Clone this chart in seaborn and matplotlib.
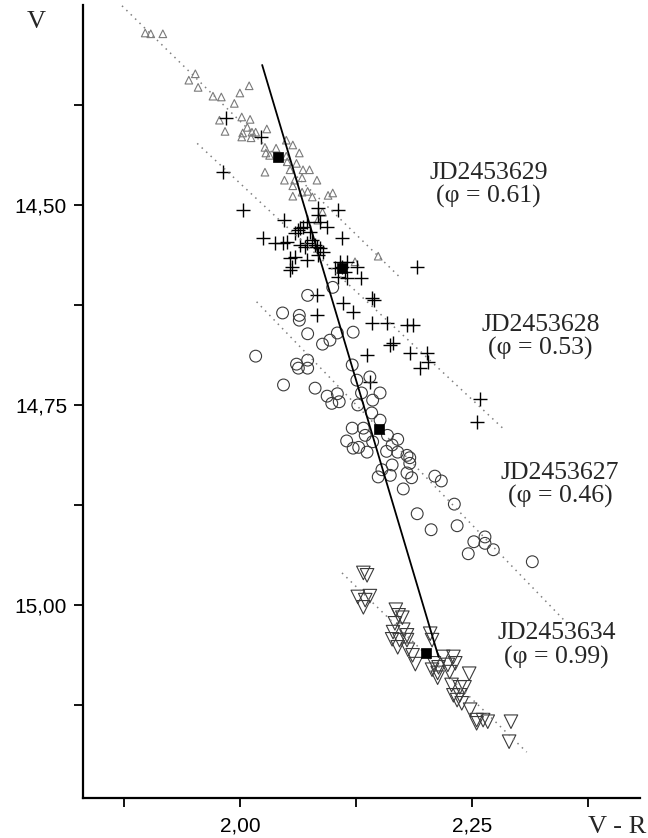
import matplotlib
matplotlib.use("Agg")
import matplotlib.pyplot as plt
import seaborn as sns

# JD2453629 (phi = 0.61) - open triangles
vr_629 = [1.898, 1.904, 1.917, 1.952, 1.945, 1.955, 1.980, 2.000, 2.010, 1.994,
          1.978, 1.984, 2.002, 2.011, 2.008, 2.003, 2.013, 2.002, 2.012, 2.017,
          2.029, 2.027, 2.039, 2.028, 2.032, 2.027, 2.050, 2.057, 2.064, 2.050,
          2.051, 2.061, 2.068, 2.075, 2.054, 2.048, 2.059, 2.067, 2.083, 2.057,
          2.067, 2.073, 2.057, 2.078, 2.095, 2.084, 2.100, 2.089, 2.124, 2.149,
          1.971]
v_629 = [14.285, 14.286, 14.286, 14.336, 14.344, 14.353, 14.365, 14.360, 14.351, 14.373,
         14.394, 14.408, 14.390, 14.393, 14.403, 14.410, 14.409, 14.415, 14.416, 14.409,
         14.405, 14.428, 14.429, 14.435, 14.438, 14.459, 14.419, 14.425, 14.435, 14.439,
         14.446, 14.448, 14.456, 14.456, 14.456, 14.469, 14.469, 14.466, 14.469, 14.476,
         14.484, 14.483, 14.489, 14.490, 14.488, 14.519, 14.485, 14.509, 14.571, 14.564,
         14.364]

# JD2453628 (phi = 0.53) - plus signs
vr_628 = [1.985, 2.023, 1.982, 2.003, 2.048, 2.063, 2.068, 2.084, 2.025, 2.038,
          2.046, 2.054, 2.059, 2.070, 2.081, 2.086, 2.084, 2.056, 2.059, 2.065,
          2.072, 2.094, 2.106, 2.110, 2.051, 2.072, 2.083, 2.089, 2.072, 2.054,
          2.110, 2.115, 2.126, 2.131, 2.106, 2.115, 2.083, 2.083, 2.111, 2.122,
          2.142, 2.145, 2.142, 2.159, 2.180, 2.186, 2.162, 2.165, 2.137, 2.183,
          2.202, 2.203, 2.194, 2.191, 2.140, 2.259, 2.255, 2.108, 2.113, 2.102,
          2.084, 2.086, 2.075, 2.078, 2.065]
v_628 = [14.391, 14.415, 14.459, 14.506, 14.519, 14.531, 14.528, 14.504, 14.541, 14.548,
         14.548, 14.566, 14.565, 14.553, 14.550, 14.554, 14.563, 14.578, 14.535, 14.529,
         14.521, 14.528, 14.506, 14.541, 14.546, 14.548, 14.553, 14.559, 14.569, 14.581,
         14.578, 14.571, 14.578, 14.591, 14.590, 14.591, 14.613, 14.638, 14.623, 14.634,
         14.616, 14.619, 14.648, 14.648, 14.650, 14.650, 14.675, 14.673, 14.688, 14.685,
         14.685, 14.696, 14.704, 14.578, 14.721, 14.743, 14.771, 14.571, 14.584, 14.579,
         14.513, 14.521, 14.534, 14.544, 14.550]

# JD2453627 (phi = 0.46) - open circles
vr_627 = [2.017, 2.073, 2.046, 2.064, 2.064, 2.073, 2.089, 2.097, 2.105, 2.122,
          2.061, 2.073, 2.063, 2.073, 2.047, 2.081, 2.094, 2.105, 2.099, 2.107,
          2.121, 2.126, 2.140, 2.131, 2.151, 2.143, 2.100, 2.127, 2.142, 2.151,
          2.121, 2.133, 2.135, 2.115, 2.122, 2.128, 2.137, 2.143, 2.159, 2.170,
          2.164, 2.158, 2.170, 2.180, 2.183, 2.183, 2.164, 2.153, 2.162, 2.149,
          2.180, 2.185, 2.176, 2.210, 2.217, 2.191, 2.206, 2.231, 2.234, 2.252,
          2.264, 2.264, 2.273, 2.246, 2.315]
v_627 = [14.689, 14.613, 14.635, 14.638, 14.644, 14.661, 14.674, 14.669, 14.660, 14.659,
         14.699, 14.694, 14.704, 14.704, 14.725, 14.729, 14.739, 14.736, 14.748, 14.746,
         14.700, 14.719, 14.715, 14.735, 14.735, 14.744, 14.603, 14.750, 14.760, 14.769,
         14.779, 14.779, 14.788, 14.795, 14.804, 14.803, 14.809, 14.796, 14.788, 14.793,
         14.800, 14.808, 14.809, 14.813, 14.816, 14.823, 14.825, 14.831, 14.838, 14.840,
         14.835, 14.841, 14.855, 14.839, 14.845, 14.886, 14.906, 14.874, 14.901, 14.921,
         14.915, 14.923, 14.931, 14.936, 14.946]

# JD2453634 (phi = 0.99) - open inverted triangles
vr_634 = [2.133, 2.137, 2.127, 2.140, 2.135, 2.133, 2.168, 2.171, 2.175, 2.167,
          2.165, 2.176, 2.180, 2.164, 2.172, 2.180, 2.170, 2.181, 2.186, 2.189,
          2.205, 2.207, 2.209, 2.207, 2.213, 2.214, 2.219, 2.224, 2.230, 2.232,
          2.226, 2.213, 2.247, 2.228, 2.237, 2.242, 2.230, 2.237, 2.234, 2.239,
          2.248, 2.255, 2.262, 2.267, 2.255, 2.292, 2.290]
v_634 = [14.960, 14.963, 14.990, 14.989, 14.994, 15.003, 15.006, 15.013, 15.016, 15.023,
         15.034, 15.031, 15.038, 15.043, 15.044, 15.044, 15.053, 15.056, 15.063, 15.074,
         15.036, 15.044, 15.073, 15.081, 15.085, 15.078, 15.065, 15.075, 15.065, 15.073,
         15.084, 15.091, 15.086, 15.100, 15.103, 15.103, 15.113, 15.113, 15.119, 15.123,
         15.131, 15.144, 15.144, 15.146, 15.148, 15.146, 15.171]

# mean points of each night and the line through them
vr_mean = [2.041, 2.110, 2.150, 2.200]
v_mean = [14.440, 14.579, 14.780, 15.060]
vr_fit = [2.024, 2.214]
v_fit = [14.325, 15.065]

# dotted trend lines per night
trend_vr = {"629": [1.873, 2.172], "628": [1.954, 2.285],
            "627": [2.018, 2.355], "634": [2.110, 2.309]}
trend_v = {"629": [14.251, 14.590], "628": [14.423, 14.781],
           "627": [14.621, 15.026], "634": [14.960, 15.184]}

labels = ["JD2453629\n(\u03c6 = 0.61)", "JD2453628\n(\u03c6 = 0.53)",
          "JD2453627\n(\u03c6 = 0.46)", "JD2453634\n(\u03c6 = 0.99)"]
label_vr = [2.268, 2.324, 2.345, 2.341]
label_v = [14.475, 14.665, 14.850, 15.051]

x_ticks = [1.875, 2.0, 2.125, 2.25, 2.375]
x_ticklabels = ["", "2,00", "", "2,25", ""]
y_ticks = [14.375, 14.5, 14.625, 14.75, 14.875, 15.0, 15.125]
y_ticklabels = ["", "14,50", "", "14,75", "", "15,00", ""]

sns.set_style("ticks")
plt.rcParams["font.family"] = ["Liberation Sans", "DejaVu Sans"]
serif = ["Liberation Serif", "DejaVu Serif"]

fig = plt.figure(figsize=(6.48, 8.38), dpi=100)
ax = fig.add_axes([83 / 648, 1 - 797.7 / 838, (640 - 83) / 648, (797.7 - 5) / 838])

# dotted lines
for key in ["629", "628", "627", "634"]:
    sns.lineplot(x=trend_vr[key], y=trend_v[key], ax=ax, color="#808080",
                 linewidth=1.1, linestyle=(0, (1, 3)), sort=False, estimator=None)

sns.scatterplot(x=vr_629, y=v_629, ax=ax, marker="^", s=30, facecolor="none",
                edgecolor="#7a7a7a", linewidth=0.8)
sns.scatterplot(x=vr_628, y=v_628, ax=ax, marker="+", s=110, color="black",
                linewidth=1.0)
sns.scatterplot(x=vr_627, y=v_627, ax=ax, marker="o", s=72, facecolor="none",
                edgecolor="#3a3a3a", linewidth=0.8)
sns.scatterplot(x=vr_634, y=v_634, ax=ax, marker="v", s=95, facecolor="none",
                edgecolor="#3a3a3a", linewidth=0.8)

sns.lineplot(x=vr_fit, y=v_fit, ax=ax, color="black", linewidth=1.3,
             sort=False, estimator=None)
sns.scatterplot(x=vr_mean, y=v_mean, ax=ax, marker="s", s=50, color="black",
                edgecolor="black", linewidth=0.5, zorder=5)

for txt, tx, ty in zip(labels, label_vr, label_v):
    ax.text(tx, ty, txt, ha="center", va="center", fontsize=18.5,
            family=serif, linespacing=1.08)

ax.set_xlim(1.831, 2.431)
ax.set_ylim(15.241, 14.25)
ax.set_xticks(x_ticks)
ax.set_xticklabels(x_ticklabels)
ax.set_yticks(y_ticks)
ax.set_yticklabels(y_ticklabels)
ax.tick_params(axis="both", direction="out", length=6.5, width=1.3,
               labelsize=15, pad=5, color="black", labelcolor="black",
               bottom=True, left=True)
ax.tick_params(axis="x", pad=7)
ax.set_xlabel("")
ax.set_ylabel("")

for side in ["top", "right"]:
    ax.spines[side].set_visible(False)
for side in ["left", "bottom"]:
    ax.spines[side].set_linewidth(1.6)
    ax.spines[side].set_color("black")

fig.text(36.5 / 648, 1 - 22 / 838, "V", ha="center", va="center", fontsize=19,
         family=serif)
fig.text(588 / 648, 1 - 833 / 838, "V - R", ha="left", va="baseline", fontsize=19,
         family=serif)

fig.savefig("out.png", dpi=100, facecolor="white")
